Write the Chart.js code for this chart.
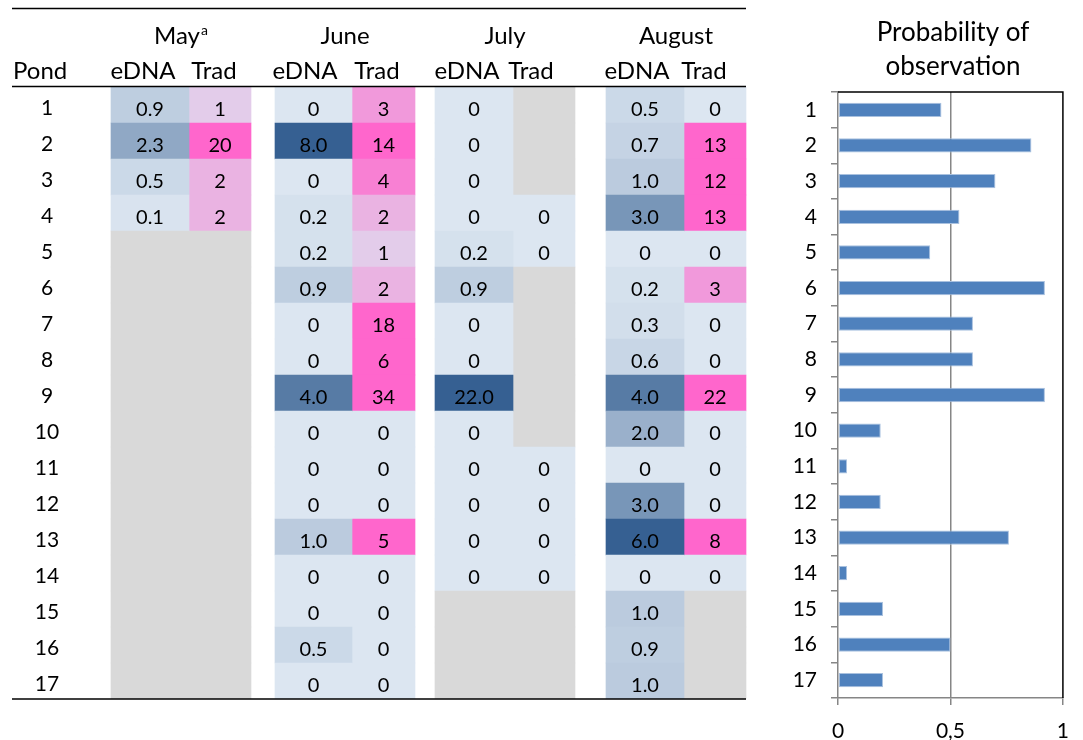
<!DOCTYPE html>
<html><head><meta charset="utf-8">
<script src="https://cdn.jsdelivr.net/npm/chart.js@4/dist/chart.umd.min.js"></script>
<style>
html,body{margin:0;padding:0;background:#fff;}
#wrap{position:relative;width:1083px;height:740px;overflow:hidden;}
#tbl{position:absolute;left:0;top:0;width:760px;height:740px;}
#prob{position:absolute;left:760px;top:0;width:323px;height:740px;}
</style></head><body>
<div id="wrap"><canvas id="tbl" width="760" height="740"></canvas><canvas id="prob" width="323" height="740"></canvas></div>
<script>
// ---------------- DATA ----------------
const ponds = ['1','2','3','4','5','6','7','8','9','10','11','12','13','14','15','16','17'];
const months = ['May','June','July','August'];
const methods = ['eDNA','Trad'];
const mayEDNA  = [0.9, 2.3, 0.5, 0.1, null, null, null, null, null, null, null, null, null, null, null, null, null];
const mayTrad  = [1, 20, 2, 2, null, null, null, null, null, null, null, null, null, null, null, null, null];
const juneEDNA = [0, 8.0, 0, 0.2, 0.2, 0.9, 0, 0, 4.0, 0, 0, 0, 1.0, 0, 0, 0.5, 0];
const juneTrad = [3, 14, 4, 2, 1, 2, 18, 6, 34, 0, 0, 0, 5, 0, 0, 0, 0];
const julyEDNA = [0, 0, 0, 0, 0.2, 0.9, 0, 0, 22.0, 0, 0, 0, 0, 0, null, null, null];
const julyTrad = [null, null, null, 0, 0, null, null, null, null, null, 0, 0, 0, 0, null, null, null];
const augEDNA  = [0.5, 0.7, 1.0, 3.0, 0, 0.2, 0.3, 0.6, 4.0, 2.0, 0, 3.0, 6.0, 0, 1.0, 0.9, 1.0];
const augTrad  = [0, 13, 12, 13, 0, 3, 0, 0, 22, 0, 0, 0, 8, 0, null, null, null];
const probability = [0.46, 0.86, 0.70, 0.54, 0.41, 0.92, 0.60, 0.60, 0.92, 0.19, 0.04, 0.19, 0.76, 0.04, 0.20, 0.50, 0.20];
const probTicks = [0, 0.5, 1];
const probTickLabels = ['0', '0,5', '1'];

// ---------------- LAYOUT / STYLE ----------------
const FONT = 'Lato, "Open Sans", sans-serif';
const COLS = [
  {l:111, r:189, hx:143}, {l:189, r:251, hx:214},
  {l:275, r:352, hx:305}, {l:352, r:415, hx:377},
  {l:435, r:513, hx:467}, {l:513, r:575, hx:531},
  {l:606, r:684, hx:637}, {l:684, r:746, hx:704}
];
const series = [mayEDNA, mayTrad, juneEDNA, juneTrad, julyEDNA, julyTrad, augEDNA, augTrad];
const BASE = [220,230,241], EDNA_MAX = [54,96,146], TRAD_MAX = [255,102,204], GRAY = '#D9D9D9';
function mix(a,b,t){return 'rgb('+a.map((c,i)=>Math.round(c+(b[i]-c)*t)).join(',')+')';}
function cellColor(kind, v){
  if (v === null) return GRAY;
  const t = Math.min(v/5, 1);
  return mix(BASE, kind === 0 ? EDNA_MAX : TRAD_MAX, t);
}
function fmt(kind, v){
  if (v === null) return '';
  if (kind === 0) return v === 0 ? '0' : v.toFixed(1);
  return String(v);
}

const tablePlugin = {
  id:'tableText',
  afterDraw(chart){
    const ctx = chart.ctx, ys = chart.scales.y;
    ctx.save();
    ctx.fillStyle = '#000';
    // cell values
    ctx.font = '20px ' + FONT;
    ctx.textAlign = 'center';
    ctx.textBaseline = 'alphabetic';
    chart.data.datasets.forEach((ds, di) => {
      const meta = chart.getDatasetMeta(di);
      meta.data.forEach((el, i) => {
        const s = fmt(ds.kind, ds.values[i]);
        if (!s) return;
        ctx.fillText(s, (el.x + el.base)/2, el.y + 11);
      });
    });
    // pond numbers
    ctx.font = '21px ' + FONT;
    ponds.forEach((p, i) => ctx.fillText(p, 47, ys.getPixelForValue(i) + 10));
    // column headers
    ctx.font = '24px ' + FONT;
    ctx.textAlign = 'left';
    ctx.fillText('Pond', 13, 79);
    ctx.textAlign = 'center';
    COLS.forEach((c, i) => ctx.fillText(methods[i % 2], c.hx, 79));
    // months
    months.forEach((m, mi) => {
      const cx = (COLS[mi*2].l + COLS[mi*2+1].r) / 2;
      if (mi === 0) {
        ctx.font = '24px ' + FONT;
        const w = ctx.measureText(m).width;
        ctx.font = '14px ' + FONT;
        const ws = ctx.measureText('a').width;
        const x0 = cx - (w + ws + 1)/2;
        ctx.textAlign = 'left';
        ctx.font = '24px ' + FONT;
        ctx.fillText(m, x0, 44);
        ctx.font = '14px ' + FONT;
        ctx.fillText('a', x0 + w + 1, 35);
        ctx.textAlign = 'center';
      } else {
        ctx.font = '24px ' + FONT;
        ctx.fillText(m, cx, 44);
      }
    });
    // rules
    ctx.strokeStyle = '#000';
    ctx.lineWidth = 1.5;
    [8.5, 86.5, 699].forEach(y => {
      ctx.beginPath(); ctx.moveTo(12, y); ctx.lineTo(746, y); ctx.stroke();
    });
    ctx.restore();
  }
};

new Chart(document.getElementById('tbl'), {
  type:'bar',
  data:{
    labels: ponds,
    datasets: series.map((vals, i) => ({
      kind: i % 2,
      values: vals,
      data: vals.map(() => [COLS[i].l, COLS[i].r]),
      backgroundColor: vals.map(v => cellColor(i % 2, v)),
      borderWidth: 0,
      borderSkipped: false,
      grouped: false,
      barPercentage: 1,
      categoryPercentage: 1
    }))
  },
  options:{
    indexAxis:'y', responsive:false, animation:false, devicePixelRatio:1,
    layout:{padding:{top:87, bottom:41, left:0, right:0}},
    scales:{
      x:{type:'linear', min:0, max:760, display:false},
      y:{type:'category', display:false, offset:true}
    },
    plugins:{legend:{display:false}, tooltip:{enabled:false}}
  },
  plugins:[tablePlugin]
});

const probPlugin = {
  id:'probDecor',
  afterDraw(chart){
    const ctx = chart.ctx, a = chart.chartArea;
    ctx.save();
    ctx.strokeStyle = '#000';
    ctx.lineWidth = 1.5;
    ctx.beginPath();
    ctx.moveTo(a.left, a.top); ctx.lineTo(a.right, a.top); ctx.lineTo(a.right, a.bottom);
    ctx.stroke();
    ctx.fillStyle = '#000';
    ctx.font = '26px ' + FONT;
    ctx.textAlign = 'center';
    ctx.textBaseline = 'alphabetic';
    ctx.fillText('Probability of', 193, 41);
    ctx.fillText('observation', 193, 75);
    ctx.restore();
  }
};

new Chart(document.getElementById('prob'), {
  type:'bar',
  data:{
    labels: ponds,
    datasets:[{
      data: probability,
      backgroundColor:'#4F81BD',
      borderColor:'#A9C1DF',
      borderWidth:1,
      borderSkipped:false,
      barPercentage:0.4,
      categoryPercentage:1
    }]
  },
  options:{
    indexAxis:'y', responsive:false, animation:false, devicePixelRatio:1,
    layout:{padding:{top:92, right:20, left:0, bottom:0}},
    scales:{
      x:{
        type:'linear', min:0, max:1,
        afterBuildTicks: s => { s.ticks = probTicks.map(v => ({value:v})); },
        ticks:{callback:(v) => probTickLabels[probTicks.indexOf(v)], font:{family:FONT, size:21}, color:'#000', padding:14, maxRotation:0, autoSkip:false},
        grid:{color: c => (c.tick && c.tick.value === 0.5) ? '#868686' : 'rgba(0,0,0,0)', tickColor:'#868686', tickLength:7, lineWidth:1.5},
        border:{color:'#868686', width:1.5},
        afterFit: s => { s.height = 42; }
      },
      y:{
        type:'category', offset:true,
        ticks:{font:{family:FONT, size:21}, color:'#000', padding:14, autoSkip:false},
        grid:{drawOnChartArea:false, offset:true, color:'#868686', tickLength:7, lineWidth:1.5},
        border:{color:'#868686', width:1.5},
        afterFit: s => { s.width = 78; }
      }
    },
    plugins:{legend:{display:false}, tooltip:{enabled:false}}
  },
  plugins:[probPlugin]
});
</script>
</body></html>
